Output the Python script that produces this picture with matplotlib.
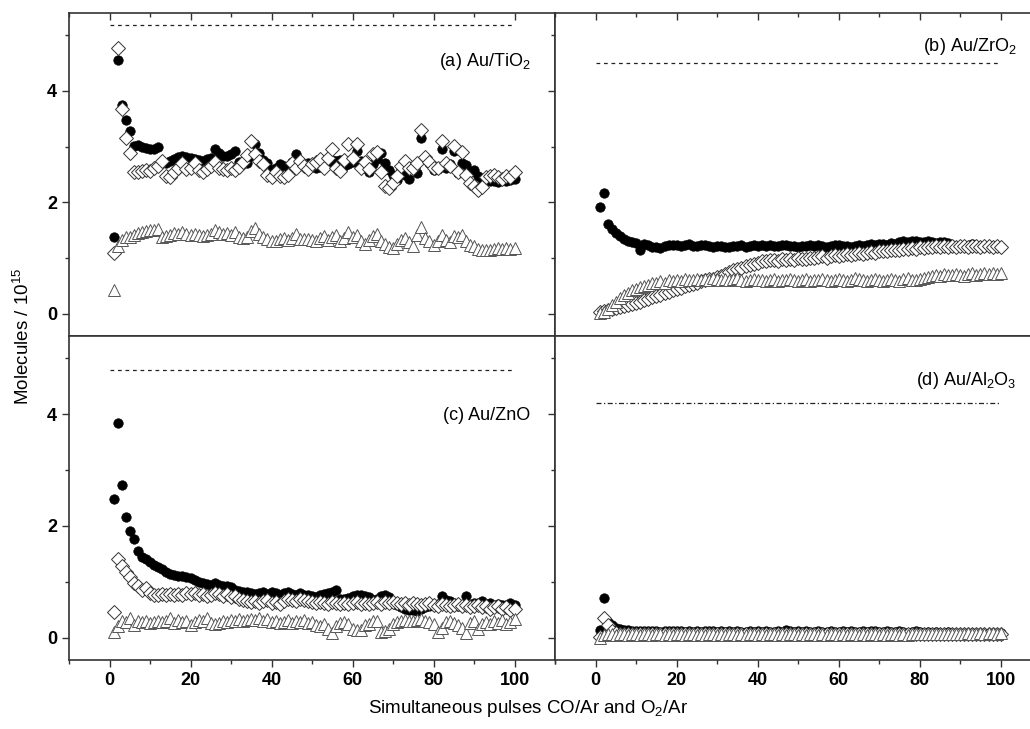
import matplotlib
matplotlib.use("Agg")
import matplotlib.pyplot as plt
from matplotlib.ticker import MultipleLocator

plt.rcParams['font.family'] = ['Liberation Sans', 'DejaVu Sans']
plt.rcParams['mathtext.default'] = 'regular'

pulses = list(range(1, 101))

# (a) Au/TiO2
tio2_circ = [1.38, 4.55, 3.75, 3.48, 3.28, 3.02, 3.03, 3.00, 2.97, 2.95,
             2.96, 3.00, 2.72, 2.70, 2.74, 2.78, 2.82, 2.84, 2.82, 2.80,
             2.78, 2.76, 2.74, 2.77, 2.80, 2.96, 2.88, 2.84, 2.83, 2.86,
             2.93, 2.72, 2.70, 2.70, 2.84, 3.05, 2.88, 2.76, 2.70, 2.58,
             2.62, 2.68, 2.66, 2.60, 2.72, 2.87, 2.70, 2.68, 2.70, 2.66,
             2.62, 2.64, 2.70, 2.72, 2.76, 2.74, 2.76, 2.66, 2.68, 2.72,
             2.92, 2.74, 2.62, 2.55, 2.68, 2.78, 2.88, 2.70, 2.58, 2.50,
             2.40, 2.60, 2.50, 2.42, 2.62, 2.52, 3.16, 2.78, 2.70, 2.58,
             2.60, 2.95, 2.62, 2.68, 2.92, 2.52, 2.70, 2.67, 2.55, 2.58,
             2.48, 2.42, 2.40, 2.38, 2.38, 2.36, 2.40, 2.38, 2.40, 2.42]
tio2_diam = [1.10, 4.77, 3.68, 3.15, 2.88, 2.55, 2.55, 2.56, 2.58, 2.56,
             2.62, 2.66, 2.75, 2.48, 2.45, 2.55, 2.62, 2.70, 2.60, 2.62,
             2.70, 2.58, 2.55, 2.60, 2.66, 2.72, 2.62, 2.60, 2.58, 2.62,
             2.58, 2.64, 2.72, 2.85, 3.10, 2.87, 2.75, 2.68, 2.50, 2.45,
             2.55, 2.48, 2.45, 2.50, 2.70, 2.62, 2.75, 2.66, 2.60, 2.68,
             2.72, 2.78, 2.62, 2.80, 2.95, 2.62, 2.56, 2.76, 3.05, 2.80,
             3.04, 2.62, 2.72, 2.60, 2.86, 2.90, 2.55, 2.30, 2.25, 2.35,
             2.48, 2.66, 2.75, 2.62, 2.62, 2.70, 3.30, 2.82, 2.72, 2.62,
             2.62, 3.10, 2.70, 2.66, 3.02, 2.55, 2.90, 2.50, 2.35, 2.30,
             2.22, 2.28, 2.45, 2.48, 2.50, 2.46, 2.42, 2.48, 2.46, 2.55]
tio2_tri = [0.43, 1.22, 1.33, 1.38, 1.38, 1.42, 1.45, 1.46, 1.48, 1.50,
            1.50, 1.52, 1.38, 1.40, 1.42, 1.45, 1.44, 1.46, 1.44, 1.42,
            1.44, 1.42, 1.40, 1.42, 1.44, 1.50, 1.46, 1.44, 1.45, 1.42,
            1.46, 1.38, 1.36, 1.38, 1.48, 1.54, 1.44, 1.38, 1.35, 1.30,
            1.30, 1.34, 1.36, 1.33, 1.36, 1.44, 1.35, 1.34, 1.35, 1.32,
            1.30, 1.36, 1.40, 1.32, 1.38, 1.42, 1.30, 1.36, 1.46, 1.38,
            1.42, 1.30, 1.26, 1.32, 1.40, 1.44, 1.30, 1.25, 1.20, 1.18,
            1.26, 1.32, 1.36, 1.28, 1.22, 1.42, 1.55, 1.36, 1.30, 1.24,
            1.30, 1.42, 1.32, 1.28, 1.40, 1.38, 1.42, 1.30, 1.24, 1.22,
            1.16, 1.14, 1.15, 1.14, 1.16, 1.18, 1.16, 1.18, 1.17, 1.18]

# (b) Au/ZrO2
zro2_circ = [1.91, 2.16, 1.62, 1.52, 1.45, 1.40, 1.35, 1.30, 1.28, 1.27,
             1.15, 1.26, 1.24, 1.20, 1.20, 1.18, 1.22, 1.24, 1.23, 1.24,
             1.22, 1.23, 1.25, 1.22, 1.21, 1.23, 1.24, 1.22, 1.20, 1.21,
             1.22, 1.20, 1.19, 1.21, 1.22, 1.24, 1.20, 1.21, 1.23, 1.22,
             1.24, 1.22, 1.23, 1.21, 1.22, 1.24, 1.23, 1.21, 1.22, 1.20,
             1.21, 1.22, 1.24, 1.22, 1.23, 1.21, 1.20, 1.22, 1.24, 1.23,
             1.21, 1.22, 1.20, 1.21, 1.24, 1.22, 1.23, 1.25, 1.24, 1.26,
             1.25, 1.24, 1.27, 1.26, 1.29, 1.30, 1.28, 1.30, 1.31, 1.29,
             1.28, 1.30, 1.28, 1.27, 1.29, 1.28, 1.27, 1.24, 1.22, 1.22,
             1.21, 1.22, 1.26, 1.22, 1.21, 1.20, 1.21, 1.20, 1.19, 1.20]
zro2_diam = [0.04, 0.05, 0.06, 0.08, 0.10, 0.12, 0.14, 0.16, 0.18, 0.20,
             0.22, 0.25, 0.27, 0.30, 0.32, 0.34, 0.37, 0.40, 0.42, 0.45,
             0.47, 0.50, 0.52, 0.54, 0.56, 0.58, 0.60, 0.62, 0.63, 0.66,
             0.68, 0.72, 0.75, 0.78, 0.80, 0.83, 0.86, 0.88, 0.90, 0.92,
             0.94, 0.95, 0.96, 0.97, 0.95, 0.98, 0.96, 0.99, 0.97, 1.00,
             0.98, 0.99, 1.01, 1.00, 1.02, 1.03, 1.01, 1.04, 1.05, 1.04,
             1.06, 1.07, 1.05, 1.08, 1.09, 1.07, 1.10, 1.11, 1.09, 1.12,
             1.13, 1.12, 1.14, 1.15, 1.14, 1.16, 1.17, 1.18, 1.17, 1.19,
             1.18, 1.20, 1.19, 1.21, 1.20, 1.22, 1.20, 1.21, 1.19, 1.22,
             1.21, 1.20, 1.22, 1.21, 1.20, 1.22, 1.21, 1.20, 1.21, 1.20]
zro2_tri = [0.02, 0.04, 0.08, 0.15, 0.22, 0.28, 0.33, 0.38, 0.42, 0.45,
            0.48, 0.50, 0.52, 0.55, 0.56, 0.58, 0.56, 0.60, 0.58, 0.61,
            0.59, 0.62, 0.60, 0.61, 0.63, 0.60, 0.62, 0.61, 0.64, 0.62,
            0.60, 0.63, 0.61, 0.62, 0.64, 0.61, 0.59, 0.60, 0.62, 0.61,
            0.60, 0.58, 0.60, 0.62, 0.59, 0.60, 0.61, 0.63, 0.60, 0.59,
            0.61, 0.62, 0.58, 0.60, 0.61, 0.63, 0.60, 0.59, 0.61, 0.62,
            0.60, 0.58, 0.61, 0.64, 0.62, 0.60, 0.59, 0.61, 0.63, 0.60,
            0.58, 0.61, 0.62, 0.60, 0.59, 0.62, 0.64, 0.61, 0.60, 0.62,
            0.65, 0.66, 0.68, 0.70, 0.68, 0.71, 0.69, 0.70, 0.72, 0.70,
            0.68, 0.71, 0.73, 0.70, 0.72, 0.74, 0.71, 0.73, 0.72, 0.74]

# (c) Au/ZnO
zno_circ = [2.48, 3.85, 2.74, 2.16, 1.91, 1.76, 1.55, 1.44, 1.40, 1.35,
            1.30, 1.26, 1.22, 1.18, 1.14, 1.13, 1.11, 1.10, 1.08, 1.06,
            1.03, 1.00, 0.98, 0.96, 0.95, 0.97, 0.94, 0.93, 0.92, 0.90,
            0.86, 0.84, 0.82, 0.81, 0.80, 0.79, 0.80, 0.81, 0.78, 0.82,
            0.80, 0.76, 0.80, 0.81, 0.78, 0.77, 0.80, 0.76, 0.77, 0.74,
            0.72, 0.76, 0.78, 0.80, 0.82, 0.86, 0.70, 0.70, 0.71, 0.74,
            0.77, 0.76, 0.75, 0.73, 0.68, 0.69, 0.74, 0.76, 0.72, 0.62,
            0.58, 0.55, 0.52, 0.50, 0.50, 0.48, 0.52, 0.55, 0.56, 0.56,
            0.60, 0.74, 0.68, 0.66, 0.62, 0.56, 0.58, 0.74, 0.55, 0.62,
            0.62, 0.66, 0.60, 0.62, 0.56, 0.60, 0.58, 0.58, 0.62, 0.58]
zno_diam = [0.45, 1.40, 1.28, 1.17, 1.08, 0.98, 0.92, 0.86, 0.88, 0.80,
            0.76, 0.76, 0.78, 0.76, 0.78, 0.76, 0.78, 0.76, 0.80, 0.78,
            0.80, 0.76, 0.78, 0.74, 0.76, 0.80, 0.78, 0.74, 0.78, 0.72,
            0.74, 0.70, 0.68, 0.66, 0.64, 0.66, 0.62, 0.66, 0.68, 0.62,
            0.64, 0.60, 0.66, 0.70, 0.68, 0.66, 0.70, 0.68, 0.66, 0.64,
            0.62, 0.64, 0.62, 0.60, 0.64, 0.62, 0.60, 0.62, 0.60, 0.62,
            0.64, 0.60, 0.62, 0.60, 0.62, 0.64, 0.60, 0.64, 0.62, 0.64,
            0.62, 0.60, 0.62, 0.58, 0.62, 0.60, 0.58, 0.60, 0.62, 0.58,
            0.56, 0.60, 0.58, 0.56, 0.58, 0.60, 0.56, 0.58, 0.54, 0.56,
            0.58, 0.54, 0.56, 0.52, 0.54, 0.56, 0.52, 0.54, 0.50, 0.52]
zno_tri = [0.10, 0.20, 0.30, 0.28, 0.35, 0.22, 0.30, 0.28, 0.30, 0.26,
           0.28, 0.30, 0.28, 0.30, 0.36, 0.26, 0.32, 0.28, 0.30, 0.22,
           0.28, 0.32, 0.30, 0.36, 0.26, 0.24, 0.26, 0.30, 0.28, 0.32,
           0.30, 0.34, 0.30, 0.32, 0.34, 0.32, 0.36, 0.30, 0.34, 0.28,
           0.30, 0.26, 0.28, 0.32, 0.26, 0.30, 0.28, 0.32, 0.26, 0.28,
           0.22, 0.20, 0.24, 0.16, 0.08, 0.20, 0.26, 0.28, 0.24, 0.16,
           0.14, 0.14, 0.22, 0.24, 0.30, 0.30, 0.10, 0.12, 0.16, 0.24,
           0.28, 0.30, 0.32, 0.30, 0.30, 0.32, 0.34, 0.30, 0.28, 0.24,
           0.10, 0.18, 0.28, 0.30, 0.26, 0.22, 0.18, 0.08, 0.26, 0.30,
           0.16, 0.24, 0.28, 0.24, 0.30, 0.26, 0.32, 0.24, 0.28, 0.34]

# (d) Au/Al2O3
al2o3_circ = [0.14, 0.71, 0.28, 0.22, 0.18, 0.16, 0.14, 0.13, 0.12, 0.12,
              0.11, 0.12, 0.11, 0.12, 0.11, 0.10, 0.11, 0.12, 0.11, 0.12,
              0.11, 0.10, 0.11, 0.10, 0.11, 0.10, 0.11, 0.12, 0.11, 0.10,
              0.11, 0.10, 0.11, 0.10, 0.11, 0.10, 0.10, 0.11, 0.10, 0.11,
              0.10, 0.11, 0.10, 0.10, 0.11, 0.10, 0.13, 0.11, 0.10, 0.11,
              0.10, 0.11, 0.10, 0.10, 0.11, 0.10, 0.10, 0.11, 0.10, 0.10,
              0.11, 0.10, 0.11, 0.10, 0.10, 0.11, 0.10, 0.12, 0.11, 0.10,
              0.10, 0.11, 0.10, 0.10, 0.11, 0.10, 0.09, 0.10, 0.11, 0.10,
              0.09, 0.10, 0.09, 0.10, 0.09, 0.09, 0.10, 0.09, 0.09, 0.08,
              0.09, 0.08, 0.09, 0.08, 0.09, 0.08, 0.09, 0.08, 0.09, 0.08]
al2o3_diam = [0.02, 0.36, 0.22, 0.12, 0.08, 0.07, 0.06, 0.06, 0.07, 0.06,
              0.06, 0.07, 0.06, 0.06, 0.07, 0.06, 0.06, 0.06, 0.07, 0.06,
              0.06, 0.06, 0.07, 0.06, 0.06, 0.06, 0.07, 0.06, 0.06, 0.06,
              0.07, 0.06, 0.06, 0.06, 0.06, 0.07, 0.06, 0.06, 0.06, 0.06,
              0.07, 0.06, 0.06, 0.06, 0.06, 0.07, 0.06, 0.06, 0.06, 0.06,
              0.06, 0.07, 0.06, 0.06, 0.06, 0.06, 0.07, 0.06, 0.06, 0.06,
              0.06, 0.07, 0.06, 0.06, 0.06, 0.06, 0.07, 0.06, 0.06, 0.06,
              0.06, 0.07, 0.06, 0.06, 0.06, 0.06, 0.06, 0.07, 0.06, 0.07,
              0.06, 0.06, 0.07, 0.06, 0.06, 0.06, 0.07, 0.06, 0.06, 0.06,
              0.07, 0.06, 0.06, 0.06, 0.07, 0.06, 0.06, 0.07, 0.06, 0.06]
al2o3_tri = [0.00, 0.05, 0.06, 0.06, 0.05, 0.06, 0.06, 0.05, 0.06, 0.06,
             0.05, 0.06, 0.06, 0.05, 0.06, 0.06, 0.05, 0.06, 0.05, 0.06,
             0.06, 0.05, 0.06, 0.06, 0.05, 0.06, 0.05, 0.06, 0.06, 0.05,
             0.06, 0.05, 0.06, 0.06, 0.05, 0.06, 0.05, 0.06, 0.06, 0.05,
             0.06, 0.05, 0.06, 0.06, 0.05, 0.06, 0.05, 0.06, 0.06, 0.05,
             0.06, 0.05, 0.06, 0.06, 0.05, 0.06, 0.05, 0.06, 0.06, 0.05,
             0.06, 0.05, 0.06, 0.06, 0.05, 0.06, 0.05, 0.06, 0.06, 0.05,
             0.06, 0.05, 0.06, 0.06, 0.05, 0.06, 0.05, 0.06, 0.06, 0.07,
             0.06, 0.07, 0.06, 0.07, 0.07, 0.06, 0.07, 0.07, 0.06, 0.07,
             0.07, 0.08, 0.07, 0.07, 0.08, 0.07, 0.08, 0.08, 0.07, 0.09]

labels = [r'(a) Au/TiO$_2$', r'(b) Au/ZrO$_2$', '(c) Au/ZnO', r'(d) Au/Al$_2$O$_3$']
label_y = [4.52, 4.79, 3.98, 4.60]
ref_levels = [5.18, 4.50, 4.80, 4.20]

panels = [(tio2_circ, tio2_diam, tio2_tri), (zro2_circ, zro2_diam, zro2_tri),
          (zno_circ, zno_diam, zno_tri), (al2o3_circ, al2o3_diam, al2o3_tri)]

fig = plt.figure(figsize=(10.3, 7.29), dpi=100)
w = 486 / 1030
boxes = [(0.067, 0.539, w, 0.4432), (0.539, 0.539, w, 0.4432),
         (0.067, 0.0947, w, 0.4443), (0.539, 0.0947, w, 0.4443)]

for i, (box, (circ, diam, tri)) in enumerate(zip(boxes, panels)):
    ax = fig.add_axes(box)
    ax.plot(pulses, circ, 'o', ms=6.8, mfc='black', mec='black', mew=0.5,
            ls='none', zorder=3)
    ax.plot(pulses, diam, 'D', ms=7, mfc='white', mec='#333333', mew=0.7,
            ls='none', zorder=4)
    ax.plot(pulses, tri, '^', ms=8, mfc='white', mec='#555555', mew=0.7,
            ls='none', zorder=4)
    if i == 3:
        ax.plot([0, 100], [ref_levels[i]] * 2, color='#222222', lw=0.9,
                dashes=(4, 2, 1, 2))
    else:
        ax.plot([0, 100], [ref_levels[i]] * 2, color='#222222', lw=0.9,
                dashes=(3, 3))
    ax.text(104, label_y[i], labels[i], ha='right', va='center', fontsize=13)

    ax.set_xlim(-10, 110)
    ax.set_ylim(-0.4, 5.4)
    ax.xaxis.set_major_locator(MultipleLocator(20))
    ax.xaxis.set_minor_locator(MultipleLocator(10))
    ax.yaxis.set_major_locator(MultipleLocator(2))
    ax.yaxis.set_minor_locator(MultipleLocator(1))
    ax.tick_params(which='major', direction='out', length=5, width=1,
                   color='#333333', labelsize=13)
    ax.tick_params(which='minor', direction='out', length=3, width=1,
                   color='#333333')
    for lab in ax.get_xticklabels() + ax.get_yticklabels():
        lab.set_fontweight('bold')
    for sp in ax.spines.values():
        sp.set_linewidth(1.2)
        sp.set_color('#333333')
    if i < 2:
        ax.tick_params(axis='x', labelbottom=False)
        top = ax.secondary_xaxis('top')
        top.xaxis.set_major_locator(MultipleLocator(20))
        top.xaxis.set_minor_locator(MultipleLocator(10))
        top.tick_params(which='major', direction='in', length=5, width=1,
                        color='#333333', labeltop=False)
        top.tick_params(which='minor', direction='in', length=3, width=1,
                        color='#333333')
        top.spines['top'].set_visible(False)
    if i % 2 == 1:
        ax.tick_params(axis='y', labelleft=False)

fig.text(0.022, 0.539, r'Molecules / 10$^{15}$', rotation=90, ha='center',
         va='center', fontsize=13.5)
fig.text(0.513, 0.028, r'Simultaneous pulses CO/Ar and O$_2$/Ar', ha='center',
         va='center', fontsize=13.5)

fig.savefig('out.png', dpi=100)
